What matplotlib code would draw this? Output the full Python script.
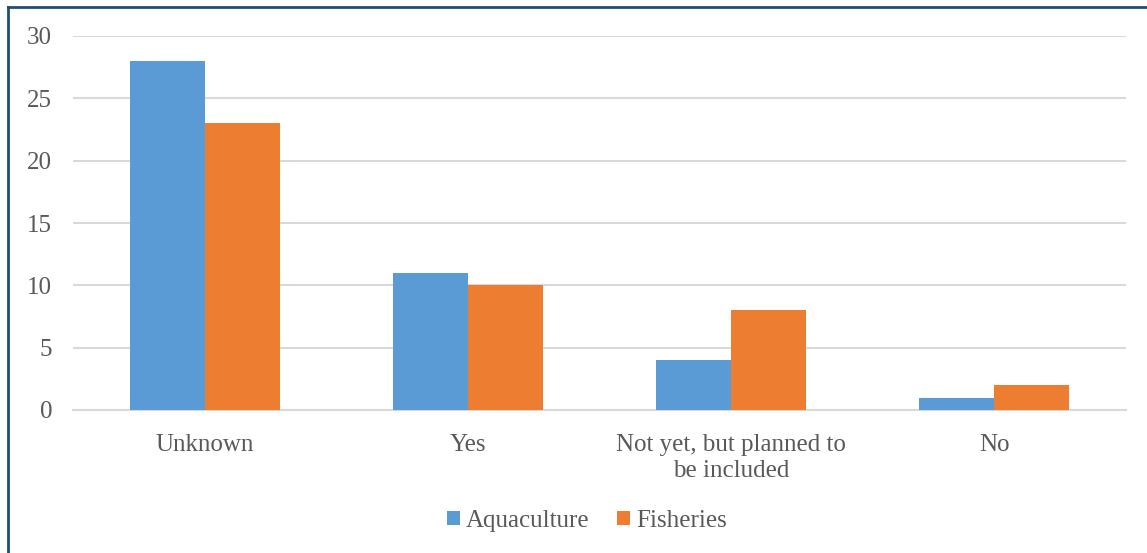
import numpy as np
import matplotlib.pyplot as plt

# data
categories = ["Unknown", "Yes", "Not yet, but planned to\nbe included", "No"]
aquaculture = [28, 11, 4, 1]
fisheries = [23, 10, 8, 2]
y_ticks = [0, 5, 10, 15, 20, 25, 30]

blue = "#5B9BD5"
orange = "#ED7D31"
text_col = "#595959"

plt.rcParams['font.family'] = ['Liberation Serif', 'DejaVu Serif']

fig = plt.figure(figsize=(11.47, 5.53), dpi=100)
ax = fig.add_axes([73 / 1147, 1 - 410 / 553, (1126 - 73) / 1147, (410 - 36) / 553])

x = np.arange(len(categories))
w = 0.285
ax.bar(x - w / 2, aquaculture, w, color=blue, label="Aquaculture", zorder=3)
ax.bar(x + w / 2, fisheries, w, color=orange, label="Fisheries", zorder=3)

ax.set_xlim(-0.5, len(categories) - 0.5)
ax.set_ylim(0, 30)
ax.set_yticks(y_ticks)
ax.set_xticks(x)
ax.set_xticklabels(categories, linespacing=1.25)
ax.yaxis.grid(True, color="#D9D9D9", linewidth=1.5, zorder=0)
ax.tick_params(axis="both", length=0, labelsize=18, colors=text_col)
ax.tick_params(axis="y", pad=15)
ax.tick_params(axis="x", pad=17)
for side in ["top", "right", "left"]:
    ax.spines[side].set_visible(False)
ax.spines["bottom"].set_color("#D9D9D9")
ax.spines["bottom"].set_linewidth(1.5)

leg = fig.legend(loc="center", bbox_to_anchor=(587 / 1147, 1 - 521 / 553), ncol=2,
                 frameon=False, fontsize=18, handlelength=0.5, handleheight=0.5,
                 handletextpad=0.25, columnspacing=1.1)
for t in leg.get_texts():
    t.set_color(text_col)

# outer frame (left and top edges visible)
fig.add_artist(plt.Line2D([8 / 1147, 8 / 1147], [0, 1 - 7 / 553], transform=fig.transFigure,
                          color="#1F4E79", linewidth=2))
fig.add_artist(plt.Line2D([8 / 1147, 1], [1 - 7 / 553, 1 - 7 / 553], transform=fig.transFigure,
                          color="#1F4E79", linewidth=2))

fig.savefig("out.png", dpi=100)
